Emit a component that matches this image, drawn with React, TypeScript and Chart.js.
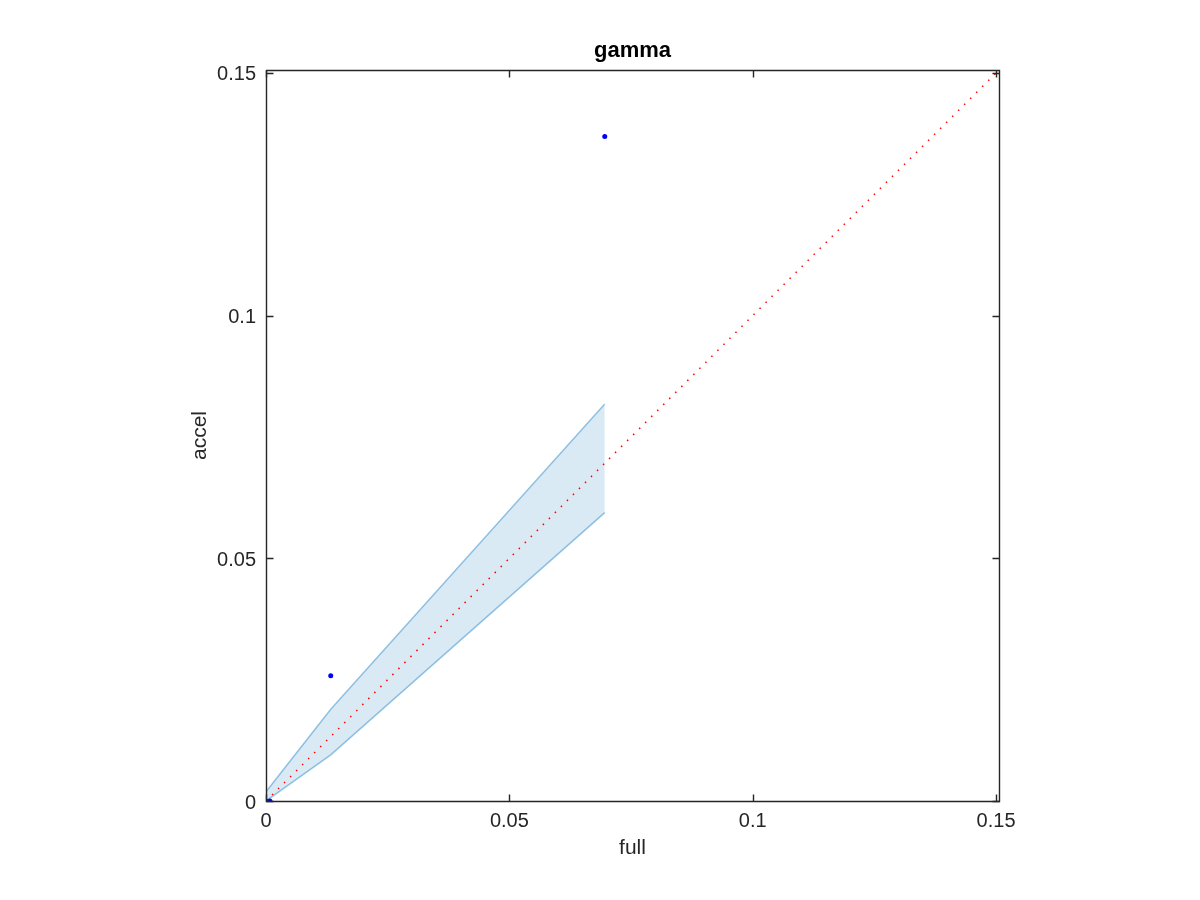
import React, { useEffect, useRef } from "react";
import { Chart, registerables } from "chart.js";

Chart.register(...registerables);

const chartTitle = "gamma";
const xLabel = "full";
const yLabel = "accel";
const axisMax = 0.1506;
const tickValues = [0, 0.05, 0.1, 0.15];
const tickLabels = ["0", "0.05", "0.1", "0.15"];

const pointX = [0, 0.0008, 0.0133, 0.0696];
const pointY = [0, 0, 0.0258, 0.1369];

const bandX = [0, 0.0133, 0.0696];
const bandUpper = [0.0019, 0.0189, 0.0818];
const bandLower = [0, 0.0095, 0.0594];

const diagX = [0, axisMax];
const diagY = [0, axisMax];

const FONT = "'Liberation Sans', Arial, Helvetica, sans-serif";

const framePlugin = {
  id: "frame",
  afterDraw(chart: any) {
    const { ctx, chartArea } = chart;
    const xs = chart.scales.x;
    const ys = chart.scales.y;
    const { left, right, top, bottom } = chartArea;
    ctx.save();
    ctx.strokeStyle = "#262626";
    ctx.lineWidth = 1.4;
    const L = Math.round(left) + 0.5;
    const R = Math.round(right) + 0.5;
    const T = Math.round(top) + 0.5;
    const B = Math.round(bottom) + 0.5;
    ctx.beginPath();
    ctx.rect(L, T, R - L, B - T);
    ctx.stroke();
    const tl = 7;
    ctx.beginPath();
    tickValues.forEach((v) => {
      const px = Math.round(xs.getPixelForValue(v)) + 0.5;
      ctx.moveTo(px, B);
      ctx.lineTo(px, B - tl);
      ctx.moveTo(px, T);
      ctx.lineTo(px, T + tl);
      const py = Math.round(ys.getPixelForValue(v)) + 0.5;
      ctx.moveTo(L, py);
      ctx.lineTo(L + tl, py);
      ctx.moveTo(R, py);
      ctx.lineTo(R - tl, py);
    });
    ctx.stroke();

    ctx.fillStyle = "#000";
    ctx.textAlign = "center";
    ctx.textBaseline = "alphabetic";
    ctx.font = `bold 22px ${FONT}`;
    ctx.fillText(chartTitle, (left + right) / 2, 57);

    ctx.fillStyle = "#262626";
    ctx.textBaseline = "middle";
    ctx.font = `21px ${FONT}`;
    ctx.fillText(xLabel, (left + right) / 2, 848);
    ctx.translate(200, (top + bottom) / 2);
    ctx.rotate(-Math.PI / 2);
    ctx.fillText(yLabel, 0, 0);
    ctx.restore();
  },
};

export default function App() {
  const ref = useRef<HTMLCanvasElement | null>(null);
  useEffect(() => {
    if (!ref.current) return;
    const toPts = (xs: number[], ys: number[]) => xs.map((x, i) => ({ x, y: ys[i] }));
    const bandColor = "rgba(0,114,189,0.4)";
    const chart = new Chart(ref.current, {
      type: "scatter",
      data: {
        datasets: [
          {
            label: "upper",
            data: toPts(bandX, bandUpper),
            showLine: true,
            borderColor: bandColor,
            borderWidth: 1.5,
            pointRadius: 0,
            backgroundColor: "rgba(0,114,189,0.15)",
            fill: "+1",
            order: 4,
          } as any,
          {
            label: "lower",
            data: toPts(bandX, bandLower),
            showLine: true,
            borderColor: bandColor,
            borderWidth: 1.5,
            pointRadius: 0,
            fill: false,
            order: 3,
          } as any,
          {
            label: "points",
            data: toPts(pointX, pointY),
            showLine: false,
            pointRadius: 2.5,
            pointBackgroundColor: "#0000ff",
            pointBorderColor: "#0000ff",
            pointBorderWidth: 0,
            order: 2,
          } as any,
          {
            label: "diag",
            data: toPts(diagX, diagY),
            showLine: true,
            borderColor: "#ff0000",
            borderWidth: 1.5,
            borderDash: [1.5, 7],
            pointRadius: 0,
            fill: false,
            order: 1,
          } as any,
        ],
      },
      options: {
        responsive: false,
        animation: false,
        layout: { padding: { left: 0, right: 201, top: 70, bottom: 0 } },
        plugins: {
          legend: { display: false },
          tooltip: { enabled: false },
          title: { display: false },
        },
        scales: {
          x: {
            type: "linear",
            min: 0,
            max: axisMax,
            grid: { display: false, drawTicks: false },
            border: { display: false },
            afterBuildTicks: (s: any) => {
              s.ticks = tickValues.map((v) => ({ value: v }));
            },
            afterFit: (s: any) => {
              s.height = 99;
            },
            ticks: {
              padding: 8,
              color: "#262626",
              font: { family: FONT, size: 20 },
              maxRotation: 0,
              callback: (v: any) => tickLabels[tickValues.indexOf(Number(v))] ?? "",
            },
          },
          y: {
            type: "linear",
            min: 0,
            max: axisMax,
            grid: { display: false, drawTicks: false },
            border: { display: false },
            afterBuildTicks: (s: any) => {
              s.ticks = tickValues.map((v) => ({ value: v }));
            },
            afterFit: (s: any) => {
              s.width = 266;
            },
            ticks: {
              padding: 10,
              labelOffset: 2,
              color: "#262626",
              font: { family: FONT, size: 20 },
              callback: (v: any) => tickLabels[tickValues.indexOf(Number(v))] ?? "",
            },
          },
        },
      },
      plugins: [framePlugin],
    });
    return () => chart.destroy();
  }, []);
  return (
    <canvas
      ref={ref}
      width={1200}
      height={900}
      style={{ position: "absolute", left: 0, top: 0, width: 1200, height: 900, display: "block" }}
    />
  );
}
